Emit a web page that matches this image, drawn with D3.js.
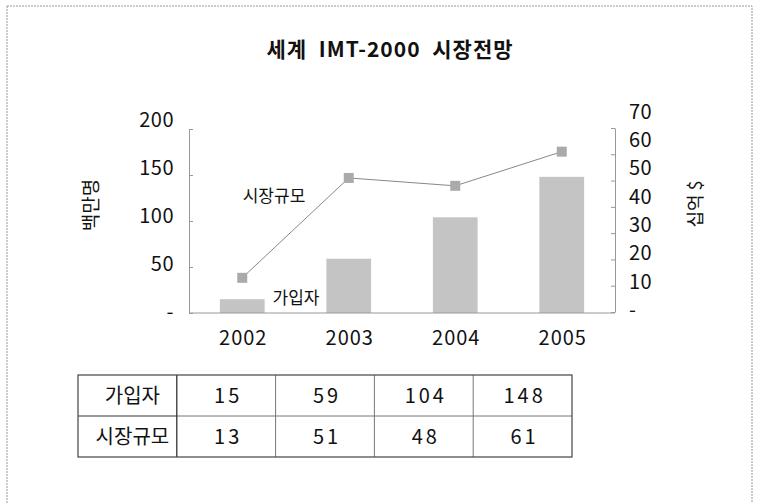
<!DOCTYPE html>
<html>
<head>
<meta charset="utf-8">
<script src="https://cdn.jsdelivr.net/npm/d3@7"></script>
<style>
  body { margin: 0; background: #fff; }
  text { font-family: "Noto Sans CJK KR", "DejaVu Sans", sans-serif; fill: #111; }
</style>
</head>
<body>
<div id="chart"></div>
<script>
// 세계 IMT-2000 시장전망 data
const years = ["2002", "2003", "2004", "2005"];
const subscribers = [15, 59, 104, 148];   // 가입자 (백만명)
const marketSize = [13, 51, 48, 61];       // 시장규모 (십억 $)
const leftTicks = [0, 50, 100, 150, 200];
const rightTicks = [0, 10, 20, 30, 40, 50, 60, 70];
const rowNames = ["가입자", "시장규모"];

const width = 758, height = 503;
const plot = { left: 189, right: 615, top: 129, bottom: 313 };

const svg = d3.select("#chart").append("svg")
        .attr("width", width)
        .attr("height", height);

// outer frame
svg.append("rect")
        .attr("x", 7).attr("y", 6)
        .attr("width", 745).attr("height", 510)
        .attr("fill", "none")
        .attr("stroke", "#999")
        .attr("stroke-width", 1)
        .attr("stroke-dasharray", "2,1");

svg.append("text")
        .attr("x", 390).attr("y", 57)
        .attr("text-anchor", "middle")
        .attr("font-size", 21)
        .attr("font-weight", "bold")
        .attr("letter-spacing", 1)
        .attr("word-spacing", 6)
        .text("세계 IMT-2000 시장전망");

const x = d3.scaleBand()
        .domain(years)
        .range([plot.left, plot.right])
        .paddingInner(0.58)
        .paddingOuter(0.29);

const yL = d3.scaleLinear().domain([0, 200]).range([plot.bottom, plot.top]);
const yR = d3.scaleLinear().domain([0, 70]).range([plot.bottom - 1, plot.top - 1]);

// bars
svg.append("g").selectAll("rect")
        .data(subscribers)
        .join("rect")
        .attr("x", (d, i) => x(years[i]))
        .attr("y", d => yL(d))
        .attr("width", x.bandwidth())
        .attr("height", d => yL(0) - yL(d))
        .attr("fill", "#c4c4c4");

// axes
const leftAxis = svg.append("g")
        .attr("transform", `translate(${plot.left},0)`)
        .call(d3.axisLeft(yL).tickValues(leftTicks).tickSize(-4).tickSizeOuter(0)
                .tickFormat(d => d === 0 ? "-" : d));
leftAxis.select(".domain").attr("stroke", "#999");
leftAxis.selectAll(".tick line").attr("stroke", "#999");
leftAxis.selectAll(".tick text")
        .attr("x", -15)
        .attr("transform", d => `translate(0,${-1 - d * 0.04})`)
        .attr("font-size", 20)
        .attr("letter-spacing", 0.5)
        .attr("font-family", "'Noto Sans CJK KR', sans-serif")
        .attr("fill", "#111");

const rightAxis = svg.append("g")
        .attr("transform", `translate(${plot.right},0)`)
        .call(d3.axisRight(yR).tickValues(rightTicks).tickSize(-4).tickSizeOuter(0)
                .tickFormat(d => d === 0 ? "-" : d));
rightAxis.select(".domain").attr("stroke", "#999");
rightAxis.selectAll(".tick line").attr("stroke", "#999");
rightAxis.selectAll(".tick text")
        .attr("x", 14)
        .attr("transform", d => `translate(0,${-2 - d * 0.2})`)
        .attr("dy", "0.32em")
        .attr("font-size", 20)
        .attr("letter-spacing", 0.5)
        .attr("font-family", "'Noto Sans CJK KR', sans-serif")
        .attr("fill", "#111");

// bottom line
svg.append("line")
        .attr("x1", plot.left).attr("x2", plot.right)
        .attr("y1", plot.bottom).attr("y2", plot.bottom)
        .attr("stroke", "#999");

// year labels
svg.append("g").selectAll("text")
        .data(years)
        .join("text")
        .attr("x", d => x(d) + x.bandwidth() / 2 + 1)
        .attr("y", 345)
        .attr("text-anchor", "middle")
        .attr("font-size", 20)
        .attr("letter-spacing", 1)
        .text(d => d);

// market size line
const line = d3.line()
        .x((d, i) => x(years[i]) + x.bandwidth() / 2)
        .y(d => yR(d));
svg.append("path")
        .datum(marketSize)
        .attr("d", line)
        .attr("fill", "none")
        .attr("stroke", "#888")
        .attr("stroke-width", 1);
svg.append("g").selectAll("rect")
        .data(marketSize)
        .join("rect")
        .attr("x", (d, i) => x(years[i]) + x.bandwidth() / 2 - 5)
        .attr("y", d => yR(d) - 5)
        .attr("width", 10).attr("height", 10)
        .attr("fill", "#aaa");

// series labels
svg.append("text").attr("x", 274).attr("y", 202)
        .attr("text-anchor", "middle").attr("font-size", 17).text(rowNames[1]);
svg.append("text").attr("x", 296).attr("y", 304)
        .attr("text-anchor", "middle").attr("font-size", 17).text(rowNames[0]);

// axis titles
svg.append("text")
        .attr("transform", "translate(91,205) rotate(-90)")
        .attr("text-anchor", "middle")
        .attr("dy", "0.35em")
        .attr("font-size", 19)
        .text("백만명");
svg.append("text")
        .attr("transform", "translate(696,204) rotate(-90)")
        .attr("text-anchor", "middle")
        .attr("dy", "0.35em")
        .attr("font-size", 18)
        .text("십억 $");

// data table
const tbl = { left: 78, top: 375, colW: 98.8, rowH: 41 };
const rows = [subscribers, marketSize];
const tg = svg.append("g");
rows.forEach((vals, r) => {
        const cy = tbl.top + r * tbl.rowH;
        tg.append("text")
                .attr("x", tbl.left + tbl.colW / 2 + 5)
                .attr("y", cy + tbl.rowH / 2)
                .attr("dy", "0.36em")
                .attr("text-anchor", "middle")
                .attr("font-size", 20)
                .text(rowNames[r]);
        tg.selectAll(null)
                .data(vals)
                .join("text")
                .attr("x", (d, i) => tbl.left + tbl.colW * (i + 1.5) + 2)
                .attr("y", cy + tbl.rowH / 2)
                .attr("dy", "0.36em")
                .attr("text-anchor", "middle")
                .attr("font-size", 20)
                .attr("letter-spacing", 3)
                .text(d => d);
});
const tw = tbl.colW * 5, th = tbl.rowH * 2;
// inner grid (lighter)
tg.append("line")
        .attr("x1", tbl.left + tbl.colW).attr("x2", tbl.left + tw)
        .attr("y1", tbl.top + tbl.rowH).attr("y2", tbl.top + tbl.rowH)
        .attr("stroke", "#777");
tg.append("line")
        .attr("x1", tbl.left).attr("x2", tbl.left + tbl.colW)
        .attr("y1", tbl.top + tbl.rowH).attr("y2", tbl.top + tbl.rowH)
        .attr("stroke", "#333");
d3.range(2, 5).forEach(c => {
        tg.append("line")
                .attr("x1", tbl.left + c * tbl.colW).attr("x2", tbl.left + c * tbl.colW)
                .attr("y1", tbl.top).attr("y2", tbl.top + th)
                .attr("stroke", "#777");
});
tg.append("line")
        .attr("x1", tbl.left + tbl.colW).attr("x2", tbl.left + tbl.colW)
        .attr("y1", tbl.top).attr("y2", tbl.top + th)
        .attr("stroke", "#222").attr("stroke-width", 1.2);
tg.append("rect")
        .attr("x", tbl.left).attr("y", tbl.top)
        .attr("width", tw).attr("height", th)
        .attr("fill", "none")
        .attr("stroke", "#444")
        .attr("stroke-width", 1.2);
</script>
</body>
</html>
